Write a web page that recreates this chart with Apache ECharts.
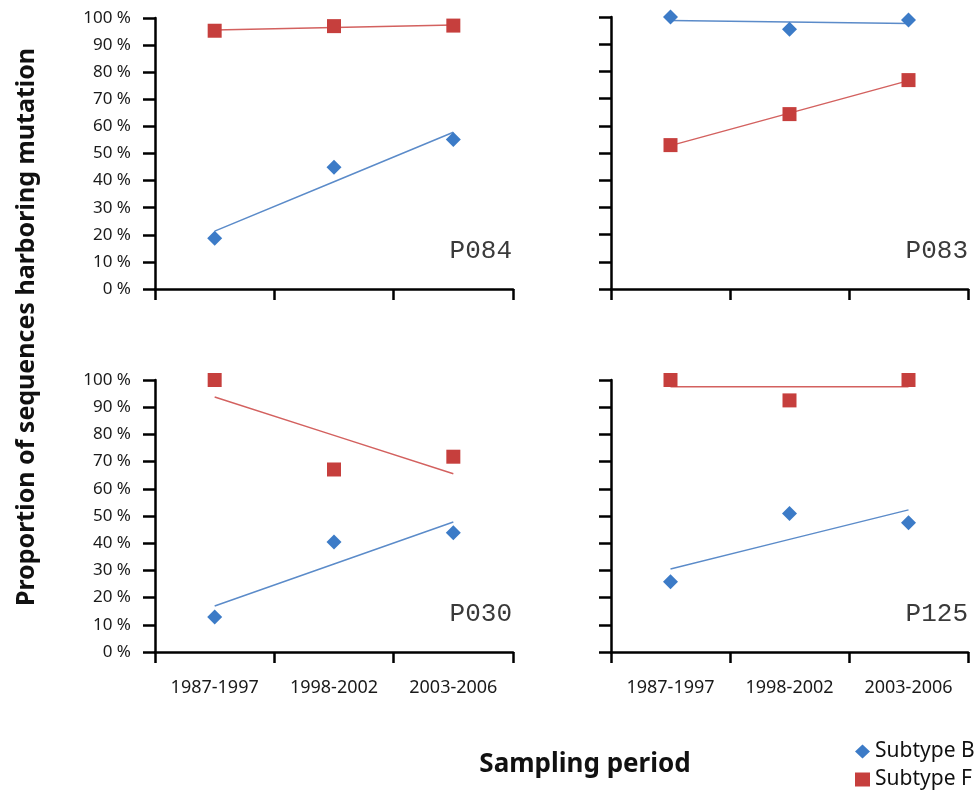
<!DOCTYPE html>
<html>
<head>
<meta charset="utf-8">
<title>Subtype B vs F</title>
<script src="https://cdn.jsdelivr.net/npm/echarts@6/dist/echarts.min.js"></script>
<style>
	html, body { margin: 0; padding: 0; background: #fff; }
	#chart { width: 974px; height: 790px; }
</style>
</head>
<body>
<div id="chart"></div>
<script>
// categories
var periods = ['1987-1997', '1998-2002', '2003-2006'];
var yTicks = [0, 10, 20, 30, 40, 50, 60, 70, 80, 90, 100];

// values (% of sequences)
var p084B = [18.7, 44.9, 55.2];
var p084F = [95.3, 97.0, 97.2];
var p083B = [100, 95.5, 98.9];
var p083F = [52.9, 64.3, 76.8];
var p030B = [12.9, 40.4, 43.8];
var p030F = [100, 67.1, 71.8];
var p125B = [25.8, 50.9, 47.5];
var p125F = [100, 92.5, 100];

var panelNames = ['P084', 'P083', 'P030', 'P125'];

var blue = '#3c7bc7';
var red = '#c63f3d';
var blueLine = '#5b8bc9';
var redLine = '#d3615f';

// linear trend (like excel trendline) through the category index
function trend(vals) {
	var n = vals.length, sx = 0, sy = 0, sxy = 0, sxx = 0;
	for (var i = 0; i < n; i++) {
		sx += i; sy += vals[i]; sxy += i * vals[i]; sxx += i * i;
	}
	var b = (n * sxy - sx * sy) / (n * sxx - sx * sx);
	var a = (sy - b * sx) / n;
	var out = [];
	for (var j = 0; j < n; j++) out.push(+(a + b * j).toFixed(3));
	return out;
}

var grids = [
	{ left: 155, top: 18, width: 358, height: 271 },
	{ left: 611, top: 17, width: 357, height: 272 },
	{ left: 155, top: 380, width: 358, height: 272 },
	{ left: 611, top: 380, width: 357, height: 272 }
];

var axisLineStyle = { color: '#000', width: 2.5 };

var xAxes = [], yAxes = [], series = [];
var panels = [[p084B, p084F], [p083B, p083F], [p030B, p030F], [p125B, p125F]];

for (var k = 0; k < 4; k++) {
	xAxes.push({
		type: 'category',
		gridIndex: k,
		data: periods,
		boundaryGap: true,
		axisLine: { lineStyle: axisLineStyle },
		axisTick: { show: true, interval: 0, length: 11, lineStyle: { color: '#000', width: 2.5 } },
		axisLabel: {
			show: k >= 2,
			interval: 0,
			hideOverlap: false,
			color: '#1a1a1a',
			fontSize: 18,
			fontFamily: 'Noto Sans',
			margin: 27
		},
		splitLine: { show: false }
	});
	yAxes.push({
		type: 'value',
		gridIndex: k,
		min: 0,
		max: 100,
		interval: 10,
		axisLine: { show: true, lineStyle: axisLineStyle },
		axisTick: { show: true, length: 12, lineStyle: { color: '#000', width: 2.5 } },
		axisLabel: {
			show: k % 2 === 0,
			formatter: '{value} %',
			color: '#1a1a1a',
			fontSize: 17,
			fontFamily: 'Noto Sans',
			margin: 24
		},
		splitLine: { show: false }
	});

	var dB = panels[k][0], dF = panels[k][1];
	// trend lines first so markers sit on top
	series.push({
		name: 'trendB' + k, type: 'line', xAxisIndex: k, yAxisIndex: k,
		data: trend(dB), symbol: 'none', silent: true, z: 2,
		lineStyle: { color: blueLine, width: 1.5 }
	});
	series.push({
		name: 'trendF' + k, type: 'line', xAxisIndex: k, yAxisIndex: k,
		data: trend(dF), symbol: 'none', silent: true, z: 2,
		lineStyle: { color: redLine, width: 1.5 }
	});
	series.push({
		name: 'Subtype B', type: 'scatter', xAxisIndex: k, yAxisIndex: k,
		data: dB, symbol: 'diamond', symbolSize: 15, z: 3,
		itemStyle: { color: blue, opacity: 1 }
	});
	series.push({
		name: 'Subtype F', type: 'scatter', xAxisIndex: k, yAxisIndex: k,
		data: dF, symbol: 'rect', symbolSize: 14, z: 3,
		itemStyle: { color: red, opacity: 1 }
	});
}

// panel labels
var labelPos = [[512, 251], [968, 251], [512, 614], [968, 614]];
var graphics = [];
for (var m = 0; m < 4; m++) {
	graphics.push({
		type: 'text',
		x: labelPos[m][0], y: labelPos[m][1],
		style: {
			text: panelNames[m],
			font: '26px "Liberation Mono"',
			fill: '#3a3a3a',
			textAlign: 'right',
			textVerticalAlign: 'middle'
		}
	});
}
graphics.push({
	type: 'text',
	x: 27, y: 327,
	rotation: Math.PI / 2,
	style: {
		text: 'Proportion of sequences harboring mutation',
		font: 'bold 25px "Noto Sans"',
		fill: '#111',
		textAlign: 'center',
		textVerticalAlign: 'middle'
	}
});
graphics.push({
	type: 'text',
	x: 585, y: 765,
	style: {
		text: 'Sampling period',
		font: 'bold 26px "Noto Sans"',
		fill: '#111',
		textAlign: 'center',
		textVerticalAlign: 'middle'
	}
});

// one legend per entry so they stack like the reference
var legendText = { fontSize: 21, fontFamily: 'Noto Sans', color: '#111' };
var legends = [
	{ data: [{ name: 'Subtype B', icon: 'diamond' }], top: 741 },
	{ data: [{ name: 'Subtype F', icon: 'rect' }], top: 769 }
];
for (var q = 0; q < legends.length; q++) {
	legends[q].left = 855;
	legends[q].padding = 0;
	legends[q].itemWidth = 15;
	legends[q].itemHeight = 14;
	legends[q].itemGap = 4;
	legends[q].selectedMode = false;
	legends[q].textStyle = legendText;
}

var chart = echarts.init(document.getElementById('chart'));
chart.setOption({
	animation: false,
	grid: grids,
	xAxis: xAxes,
	yAxis: yAxes,
	series: series,
	legend: legends,
	graphic: graphics
});
</script>
</body>
</html>
